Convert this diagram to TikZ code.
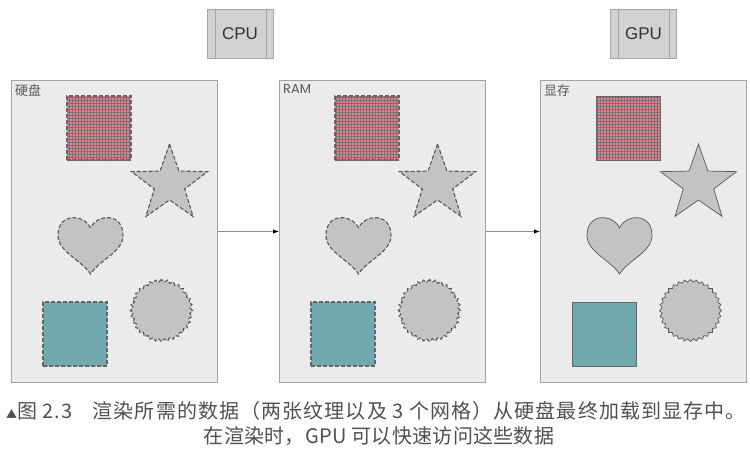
\documentclass[tikz,border=0pt]{standalone}
\usepackage{fontspec}
\setmainfont{Liberation Sans}
\newfontfamily\cjk{Noto Sans CJK SC}
\newfontfamily\cjkwide{Noto Sans CJK SC}[LetterSpace=5.5]
\newfontfamily\cjkcap{Noto Sans CJK SC}[LetterSpace=1.5]
\newfontfamily\geo{Poppins}
\usetikzlibrary{shapes, positioning, calc, patterns, arrows.meta}

\definecolor{panelgray}{HTML}{EBEBEB}
\definecolor{framegray}{HTML}{A3A3A3}
\definecolor{meshgray}{HTML}{C3C3C3}
\definecolor{texred}{HTML}{F07C8E}
\definecolor{texcyan}{HTML}{5FB3BA}
\definecolor{captiongray}{HTML}{505050}
\definecolor{unitgray}{HTML}{D2D2D2}

\tikzset{
  heartshape/.pic={
    \draw[fill=meshgray, draw=black!65] (0,-18) .. controls (-6,-32) and (-33,-34) .. (-32.5,-10)
      .. controls (-32,6) and (-9,14) .. (0,28) .. controls (9,14) and (32,6) .. (32.5,-10)
      .. controls (33,-34) and (6,-32) .. (0,-18) -- cycle;
  }
}

\begin{document}
\begin{tikzpicture}
  [x=1pt, y=-1pt,
   panel/.style={rectangle, draw=framegray, fill=panelgray, line width=0.9pt,
     minimum width=206pt, minimum height=302pt, inner sep=0pt},
   tag/.style={inner sep=1pt, text=black!65, font=\fontsize{13}{13}\selectfont},
   unit/.style={rectangle, draw=black!35, fill=unitgray, line width=0.8pt,
     minimum width=66pt, minimum height=49pt, text=black!80,
     font=\fontsize{17}{17}\selectfont,
     path picture={\draw[black!35, line width=0.9pt]
       ([xshift=8pt]path picture bounding box.north west) -- ([xshift=8pt]path picture bounding box.south west)
       ([xshift=-7pt]path picture bounding box.north east) -- ([xshift=-7pt]path picture bounding box.south east);}},
   copyline/.style={dash pattern=on 4pt off 2pt, line width=1.1pt},
   vramline/.style={solid, line width=0.7pt},
   texgrid/.style={rectangle, minimum size=64pt, inner sep=0pt, draw=black!60,
     preaction={fill=texred}, pattern=grid, pattern color=black!55},
   texlines/.style={rectangle, minimum size=64pt, inner sep=0pt, draw=black!60,
     preaction={fill=texcyan}, pattern=north west lines, pattern color=black!40},
   meshstar/.style={star, star points=5, star point ratio=2.5, minimum size=80pt,
     inner sep=0pt, fill=meshgray, draw=black!65},
   meshgear/.style={star, star points=32, star point ratio=1.09, minimum size=62pt,
     inner sep=0pt, fill=meshgray, draw=black!65},
   link/.style={draw=black!45, line width=0.8pt, -{Latex[length=6pt,width=4.5pt,color=black]}},
   caption/.style={text=captiongray, font=\fontsize{20}{20}\selectfont, inner sep=0pt}]

  \useasboundingbox (0,0) rectangle (750,451);

  \node[unit] (cpu) at (240,33.5) {CPU};
  \node[unit] (gpu) at (643.5,33.5) {GPU};

  \foreach \px/\nm/\lbl/\ls in {11/disk/{\cjk 硬盘}/copyline, 279/ram/{\geo RAM}/copyline, 540/vram/{\cjk 显存}/vramline}
  {
    \node[panel, anchor=north west] (\nm) at (\px,80) {};
    \node[tag, anchor=north west] (\nm-tag) at ([shift={(3,3)}]\nm.north west) {\lbl};
    \begin{scope}[shift={(\nm.north west)}]
      \node[texgrid, \ls] (\nm-tex1) at (88,48) {};
      \node[meshstar, \ls] (\nm-star) at (158.5,104) {};
      \pic[\ls] (\nm-heart) at (79.5,166) {heartshape};
      \node[meshgear, \ls] (\nm-gear) at (150.5,230.5) {};
      \node[texlines, \ls] (\nm-tex2) at (64,254) {};
    \end{scope}
  }

  \draw[link] (disk) -- (ram);
  \draw[link] (ram) -- (vram);

  \node[caption] (cap1) at (376,411) {\cjkwide{\fontsize{11}{11}\selectfont ▲}图 2.3\hspace{1em}渲染所需的数据（两张纹理以及 3 个网格）从硬盘最终加载到显存中。};
  \node[caption] (cap2) at (379,436) {\cjkcap 在渲染时，GPU 可以快速访问这些数据};

\end{tikzpicture}
\end{document}
